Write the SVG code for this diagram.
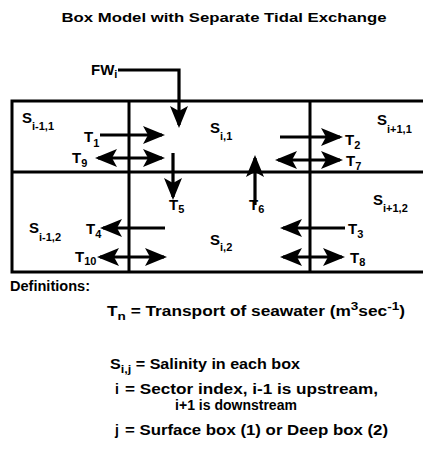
<svg xmlns="http://www.w3.org/2000/svg" width="423" height="470" viewBox="0 0 423 470">
<style>
text{font-family:"Liberation Sans",Arial,sans-serif;font-weight:bold;fill:#000}
.t{font-size:13.5px}
.lab{font-size:15px}
.sub{font-size:11px}
.grid{stroke:#000;stroke-width:3;fill:none;stroke-linecap:square}
.arr{stroke:#000;stroke-width:3.2;fill:none}
.def{font-size:14px}
</style>
<defs>
<marker id="ah" viewBox="0 0 22 18" refX="19" refY="9" markerWidth="22" markerHeight="18" markerUnits="userSpaceOnUse" orient="auto-start-reverse">
<path d="M0,0 L22,9 L0,18 L5,9 Z" fill="#000"/>
</marker>
</defs>
<rect width="423" height="470" fill="#fff"/>
<text class="t" x="224" y="22" text-anchor="middle" textLength="325" lengthAdjust="spacingAndGlyphs">Box Model with Separate Tidal Exchange</text>

<g id="grid">
<path class="grid" d="M12,101 H423 M12,172 H423 M12,272 H423 M12,101 V272 M129,101 V272 M310,101 V272"/>
</g>

<g id="box-im1-1"><text class="lab" x="22" y="123">S<tspan class="sub" dy="7">i-1,1</tspan></text></g>
<g id="box-i-1"><text class="lab" x="210" y="133">S<tspan class="sub" dy="7">i,1</tspan></text></g>
<g id="box-ip1-1"><text class="lab" x="377" y="125">S<tspan class="sub" dy="8">i+1,1</tspan></text></g>
<g id="box-im1-2"><text class="lab" x="29" y="233">S<tspan class="sub" dy="8">i-1,2</tspan></text></g>
<g id="box-i-2"><text class="lab" x="210" y="245">S<tspan class="sub" dy="6">i,2</tspan></text></g>
<g id="box-ip1-2"><text class="lab" x="373" y="205">S<tspan class="sub" dy="7">i+1,2</tspan></text></g>
<g id="fw"><text class="lab" x="91" y="75">FW<tspan class="sub" dy="3">i</tspan></text></g>

<g id="connectors">
<path class="arr" d="M118,70 H179 V125" marker-end="url(#ah)"/>
<path class="arr" d="M100,135 H162" marker-end="url(#ah)"/>
<path class="arr" d="M98,158 H162" marker-start="url(#ah)" marker-end="url(#ah)"/>
<path class="arr" d="M280,137 H340" marker-end="url(#ah)"/>
<path class="arr" d="M278,160 H340" marker-start="url(#ah)" marker-end="url(#ah)"/>
<path class="arr" d="M165,228 H103" marker-end="url(#ah)"/>
<path class="arr" d="M100,257 H164" marker-start="url(#ah)" marker-end="url(#ah)"/>
<path class="arr" d="M345,228 H283" marker-end="url(#ah)"/>
<path class="arr" d="M283,257 H342" marker-start="url(#ah)" marker-end="url(#ah)"/>
<path class="arr" d="M173,153 V197" marker-end="url(#ah)"/>
<path class="arr" d="M255,205 V158" marker-end="url(#ah)"/>
</g>

<g id="labels">
<text class="lab" x="84" y="142">T<tspan class="sub" dy="5">1</tspan></text>
<text class="lab" x="72" y="163">T<tspan class="sub" dy="4">9</tspan></text>
<text class="lab" x="345" y="145">T<tspan class="sub" dy="4">2</tspan></text>
<text class="lab" x="346" y="166">T<tspan class="sub" dy="4">7</tspan></text>
<text class="lab" x="86" y="234">T<tspan class="sub" dy="4">4</tspan></text>
<text class="lab" x="75" y="262">T<tspan class="sub" dy="3">10</tspan></text>
<text class="lab" x="348" y="234">T<tspan class="sub" dy="4">3</tspan></text>
<text class="lab" x="350" y="263">T<tspan class="sub" dy="3">8</tspan></text>
<text class="lab" x="169" y="210">T<tspan class="sub" dy="3">5</tspan></text>
<text class="lab" x="249" y="210">T<tspan class="sub" dy="3">6</tspan></text>
</g>

<g id="definitions">
<text class="def" x="10" y="291" textLength="80" lengthAdjust="spacingAndGlyphs">Definitions:</text>
<text class="def" x="107" y="316" textLength="298" lengthAdjust="spacingAndGlyphs">T<tspan class="sub" dy="4">n</tspan><tspan dy="-4"> = Transport of seawater (m</tspan><tspan class="sub" dy="-6">3</tspan><tspan dy="6">sec</tspan><tspan class="sub" dy="-6">-1</tspan><tspan dy="6">)</tspan></text>
<text class="def" x="110" y="369" textLength="190" lengthAdjust="spacingAndGlyphs">S<tspan class="sub" dy="4">i,j</tspan><tspan dy="-4"> = Salinity in each box</tspan></text>
<text class="def" x="115" y="394">i</text>
<text class="def" x="125" y="394" textLength="253" lengthAdjust="spacingAndGlyphs">= Sector index, i-1 is upstream,</text>
<text class="def" x="236" y="410" text-anchor="middle">i+1 is downstream</text>
<text class="def" x="115" y="435">j</text>
<text class="def" x="125" y="435" textLength="263" lengthAdjust="spacingAndGlyphs">= Surface box (1) or Deep box (2)</text>
</g>
</svg>
